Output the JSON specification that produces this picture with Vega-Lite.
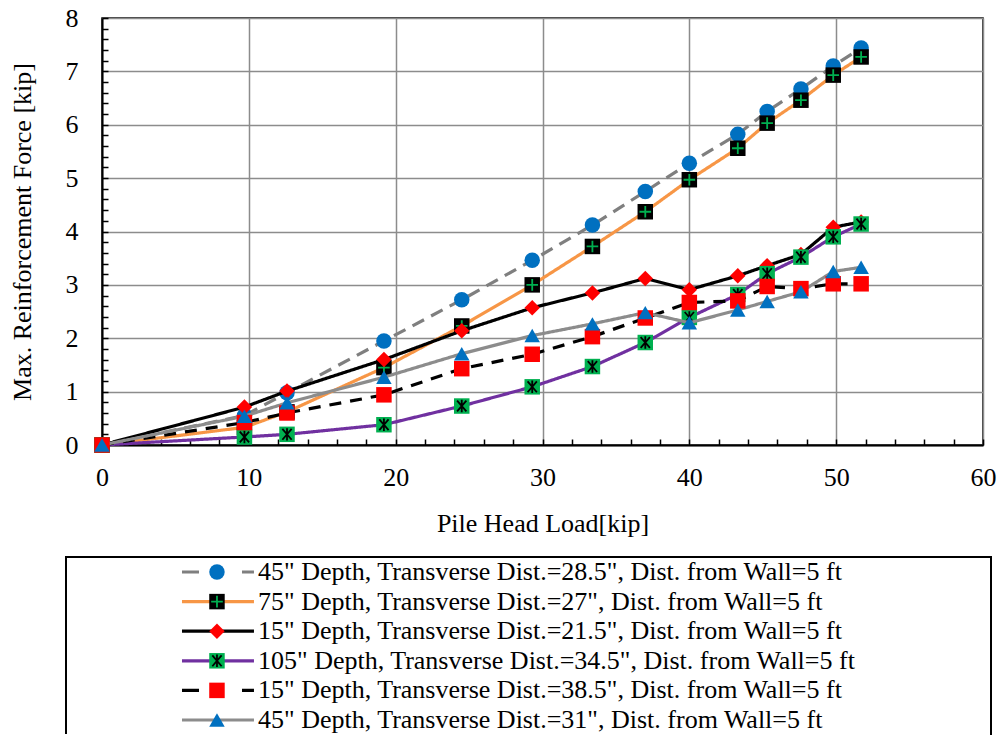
{
  "$schema": "https://vega.github.io/schema/vega-lite/v6.json",
  "padding": {"left": 8, "top": 4, "right": 0, "bottom": 0},
  "spacing": 19,
  "config": {"font": "Liberation Serif", "view": {"stroke": "black", "strokeWidth": 1.5}},
  "datasets": {
    "pts": [
      {"s": "A", "load": 0, "force": 0}, {"s": "A", "load": 9.7, "force": 0.55}, {"s": "A", "load": 12.6, "force": 0.98}, {"s": "A", "load": 19.2, "force": 1.95}, {"s": "A", "load": 24.5, "force": 2.72}, {"s": "A", "load": 29.3, "force": 3.46}, {"s": "A", "load": 33.4, "force": 4.12}, {"s": "A", "load": 37, "force": 4.75}, {"s": "A", "load": 40, "force": 5.28}, {"s": "A", "load": 43.3, "force": 5.82}, {"s": "A", "load": 45.3, "force": 6.25}, {"s": "A", "load": 47.6, "force": 6.67}, {"s": "A", "load": 49.8, "force": 7.1}, {"s": "A", "load": 51.7, "force": 7.44},
      {"s": "B", "load": 0, "force": 0}, {"s": "B", "load": 9.7, "force": 0.33}, {"s": "B", "load": 12.6, "force": 0.62}, {"s": "B", "load": 19.2, "force": 1.45}, {"s": "B", "load": 24.5, "force": 2.23}, {"s": "B", "load": 29.3, "force": 3.0}, {"s": "B", "load": 33.4, "force": 3.72}, {"s": "B", "load": 37, "force": 4.37}, {"s": "B", "load": 40, "force": 4.97}, {"s": "B", "load": 43.3, "force": 5.56}, {"s": "B", "load": 45.3, "force": 6.03}, {"s": "B", "load": 47.6, "force": 6.46}, {"s": "B", "load": 49.8, "force": 6.93}, {"s": "B", "load": 51.7, "force": 7.27},
      {"s": "C", "load": 0, "force": 0}, {"s": "C", "load": 9.7, "force": 0.71}, {"s": "C", "load": 12.6, "force": 1.01}, {"s": "C", "load": 19.2, "force": 1.6}, {"s": "C", "load": 24.5, "force": 2.14}, {"s": "C", "load": 29.3, "force": 2.57}, {"s": "C", "load": 33.4, "force": 2.85}, {"s": "C", "load": 37, "force": 3.12}, {"s": "C", "load": 40, "force": 2.91}, {"s": "C", "load": 43.3, "force": 3.17}, {"s": "C", "load": 45.3, "force": 3.36}, {"s": "C", "load": 47.6, "force": 3.57}, {"s": "C", "load": 49.8, "force": 4.08}, {"s": "C", "load": 51.7, "force": 4.18},
      {"s": "D", "load": 0, "force": 0}, {"s": "D", "load": 9.7, "force": 0.15}, {"s": "D", "load": 12.6, "force": 0.2}, {"s": "D", "load": 19.2, "force": 0.38}, {"s": "D", "load": 24.5, "force": 0.73}, {"s": "D", "load": 29.3, "force": 1.09}, {"s": "D", "load": 33.4, "force": 1.47}, {"s": "D", "load": 37, "force": 1.92}, {"s": "D", "load": 40, "force": 2.39}, {"s": "D", "load": 43.3, "force": 2.82}, {"s": "D", "load": 45.3, "force": 3.21}, {"s": "D", "load": 47.6, "force": 3.52}, {"s": "D", "load": 49.8, "force": 3.9}, {"s": "D", "load": 51.7, "force": 4.14},
      {"s": "E", "load": 0, "force": 0}, {"s": "E", "load": 9.7, "force": 0.42}, {"s": "E", "load": 12.6, "force": 0.6}, {"s": "E", "load": 19.2, "force": 0.94}, {"s": "E", "load": 24.5, "force": 1.43}, {"s": "E", "load": 29.3, "force": 1.7}, {"s": "E", "load": 33.4, "force": 2.03}, {"s": "E", "load": 37, "force": 2.38}, {"s": "E", "load": 40, "force": 2.67}, {"s": "E", "load": 43.3, "force": 2.7}, {"s": "E", "load": 45.3, "force": 2.97}, {"s": "E", "load": 47.6, "force": 2.93}, {"s": "E", "load": 49.8, "force": 3.02}, {"s": "E", "load": 51.7, "force": 3.02},
      {"s": "F", "load": 0, "force": 0}, {"s": "F", "load": 9.7, "force": 0.54}, {"s": "F", "load": 12.6, "force": 0.79}, {"s": "F", "load": 19.2, "force": 1.27}, {"s": "F", "load": 24.5, "force": 1.71}, {"s": "F", "load": 29.3, "force": 2.05}, {"s": "F", "load": 33.4, "force": 2.27}, {"s": "F", "load": 37, "force": 2.48}, {"s": "F", "load": 40, "force": 2.29}, {"s": "F", "load": 43.3, "force": 2.53}, {"s": "F", "load": 45.3, "force": 2.69}, {"s": "F", "load": 47.6, "force": 2.87}, {"s": "F", "load": 49.8, "force": 3.25}, {"s": "F", "load": 51.7, "force": 3.33}
    ],
    "leg": [
      {"s": "A", "label": "45\" Depth, Transverse Dist.=28.5\", Dist. from Wall=5 ft"},
      {"s": "B", "label": "75\" Depth, Transverse Dist.=27\", Dist. from Wall=5 ft"},
      {"s": "C", "label": "15\" Depth, Transverse Dist.=21.5\", Dist. from Wall=5 ft"},
      {"s": "D", "label": "105\" Depth, Transverse Dist.=34.5\", Dist. from Wall=5 ft"},
      {"s": "E", "label": "15\" Depth, Transverse Dist.=38.5\", Dist. from Wall=5 ft"},
      {"s": "F", "label": "45\" Depth, Transverse Dist.=31\", Dist. from Wall=5 ft"}
    ]
  },
  "vconcat": [
    {
      "width": 881,
      "height": 427,
      "data": {"name": "pts"},
      "encoding": {
        "x": {
          "field": "load", "type": "quantitative",
          "scale": {"domain": [0, 60], "nice": false, "zero": false},
          "axis": {
            "title": "Pile Head Load[kip]",
            "values": [0,2,4,6,8,10,12,14,16,18,20,22,24,26,28,30,32,34,36,38,40,42,44,46,48,50,52,54,56,58,60],
            "labelExpr": "datum.value % 10 === 0 ? datum.label : ''",
            "labelOverlap": false, "labelFlush": false,
            "grid": true, "gridColor": "#8C8C8C", "gridWidth": 1.5,
            "gridOpacity": {"condition": {"test": "datum.value % 10 === 0", "value": 1}, "value": 0},
            "tickSize": -6, "tickColor": "black", "tickWidth": 1.5,
            "domainColor": "black", "domainWidth": 2,
            "labelFontSize": 26, "labelColor": "black", "labelPadding": 25,
            "titleFontSize": 26, "titleFontWeight": "normal", "titleColor": "black", "titlePadding": 20
          }
        },
        "y": {
          "field": "force", "type": "quantitative",
          "scale": {"domain": [0, 8], "nice": false},
          "axis": {
            "title": "Max. Reinforcement Force [kip]",
            "values": [0,0.2,0.4,0.6,0.8,1,1.2,1.4,1.6,1.8,2,2.2,2.4,2.6,2.8,3,3.2,3.4,3.6,3.8,4,4.2,4.4,4.6,4.8,5,5.2,5.4,5.6,5.8,6,6.2,6.4,6.6,6.8,7,7.2,7.4,7.6,7.8,8],
            "labelExpr": "abs(datum.value - round(datum.value)) < 0.001 ? format(datum.value, 'd') : ''",
            "labelOverlap": false, "labelFlush": false,
            "grid": true, "gridColor": "#8C8C8C", "gridWidth": 1.5,
            "gridOpacity": {"condition": {"test": "abs(datum.value - round(datum.value)) < 0.001", "value": 1}, "value": 0},
            "tickSize": -6, "tickColor": "black", "tickWidth": 1.5,
            "domainColor": "black", "domainWidth": 2,
            "labelFontSize": 26, "labelColor": "black", "labelPadding": 30,
            "titleFontSize": 26, "titleFontWeight": "normal", "titleColor": "black", "titlePadding": 30
          }
        }
      },
      "layer": [
        {
          "transform": [{"filter": {"field": "s", "oneOf": ["A", "B"]}}],
          "mark": {"type": "line", "strokeWidth": 3.2},
          "encoding": {
            "stroke": {"field": "s", "type": "nominal", "legend": null, "scale": {"domain": ["A","B","C","D","E","F"], "range": ["#7F7F7F","#F79646","#000000","#7030A0","#000000","#8C8C8C"]}},
            "strokeDash": {"field": "s", "type": "nominal", "legend": null, "scale": {"domain": ["A","B","C","D","E","F"], "range": [[13,8],[1,0],[1,0],[1,0],[12,9],[1,0]]}}
          }
        },
        {
          "transform": [{"filter": {"field": "s", "oneOf": ["A", "B"]}}],
          "mark": {"type": "point", "filled": true, "opacity": 1, "strokeWidth": 0},
          "encoding": {
            "shape": {"field": "s", "type": "nominal", "legend": null, "scale": {"domain": ["A","B","C","D","E","F"], "range": ["circle","square","diamond","square","square","triangle-up"]}},
            "fill": {"field": "s", "type": "nominal", "legend": null, "scale": {"domain": ["A","B","C","D","E","F"], "range": ["#0070C0","#000000","#FF0000","#00B050","#FF0000","#0070C0"]}},
            "size": {"field": "s", "type": "nominal", "legend": null, "scale": {"domain": ["A","B","C","D","E","F"], "range": [240,240,250,240,240,290]}}
          }
        },
        {
          "transform": [{"filter": {"field": "s", "equal": "B"}}],
          "mark": {"type": "point", "filled": false, "opacity": 1, "shape": "M-0.75,0H0.75M0,-0.75V0.75", "stroke": "#00B050", "strokeWidth": 1.8, "size": 240}
        },
        {
          "transform": [{"filter": {"field": "s", "oneOf": ["C", "D"]}}],
          "mark": {"type": "line", "strokeWidth": 3.2},
          "encoding": {
            "stroke": {"field": "s", "type": "nominal", "legend": null},
            "strokeDash": {"field": "s", "type": "nominal", "legend": null}
          }
        },
        {
          "transform": [{"filter": {"field": "s", "oneOf": ["C", "D"]}}],
          "mark": {"type": "point", "filled": true, "opacity": 1, "strokeWidth": 0},
          "encoding": {
            "shape": {"field": "s", "type": "nominal", "legend": null},
            "fill": {"field": "s", "type": "nominal", "legend": null},
            "size": {"field": "s", "type": "nominal", "legend": null}
          }
        },
        {
          "transform": [{"filter": {"field": "s", "equal": "D"}}],
          "mark": {"type": "point", "filled": false, "opacity": 1, "shape": "M-0.6,-0.7L0.6,0.7M0.6,-0.7L-0.6,0.7M0,-0.8V0.8", "stroke": "#000000", "strokeWidth": 1.8, "size": 240}
        },
        {
          "transform": [{"filter": {"field": "s", "oneOf": ["E", "F"]}}],
          "mark": {"type": "line", "strokeWidth": 3.2},
          "encoding": {
            "stroke": {"field": "s", "type": "nominal", "legend": null},
            "strokeDash": {"field": "s", "type": "nominal", "legend": null}
          }
        },
        {
          "transform": [{"filter": {"field": "s", "oneOf": ["E", "F"]}}],
          "mark": {"type": "point", "filled": true, "opacity": 1, "strokeWidth": 0},
          "encoding": {
            "shape": {"field": "s", "type": "nominal", "legend": null},
            "fill": {"field": "s", "type": "nominal", "legend": null},
            "size": {"field": "s", "type": "nominal", "legend": null}
          }
        }
      ]
    },
    {
      "width": 881,
      "height": 178,
      "view": {"stroke": null},
      "data": {"name": "leg"},
      "encoding": {
        "y": {"field": "s", "type": "nominal", "axis": null, "scale": {"type": "point", "domain": ["A","B","C","D","E","F"], "padding": 0.507}}
      },
      "layer": [
        {
          "mark": {"type": "rect", "fill": null, "filled": false, "stroke": "black", "strokeWidth": 1.5, "strokeDash": [1103, 926, 177, 0]},
          "encoding": {
            "y": null,
            "x": {"datum": -0.0409, "type": "quantitative", "scale": {"domain": [0, 1], "nice": false, "zero": false}, "axis": null},
            "x2": {"datum": 1.0091}
          }
        },
        {
          "transform": [{"filter": {"field": "s", "oneOf": ["B", "C", "D", "F"]}}],
          "mark": {"type": "rule", "strokeWidth": 3.2},
          "encoding": {
            "x": {"datum": 0.0908, "type": "quantitative"},
            "x2": {"datum": 0.1725},
            "stroke": {"field": "s", "type": "nominal", "legend": null, "scale": {"domain": ["A","B","C","D","E","F"], "range": ["#7F7F7F","#F79646","#000000","#7030A0","#000000","#8C8C8C"]}}
          }
        },
        {
          "transform": [{"filter": {"field": "s", "oneOf": ["A", "E"]}}],
          "mark": {"type": "rule", "strokeWidth": 3.2, "strokeDash": [17, 43]},
          "encoding": {
            "x": {"datum": 0.0908, "type": "quantitative"},
            "x2": {"datum": 0.1725},
            "stroke": {"field": "s", "type": "nominal", "legend": null}
          }
        },
        {
          "mark": {"type": "point", "filled": true, "opacity": 1, "strokeWidth": 0},
          "encoding": {
            "x": {"datum": 0.1305, "type": "quantitative"},
            "shape": {"field": "s", "type": "nominal", "legend": null, "scale": {"domain": ["A","B","C","D","E","F"], "range": ["circle","square","diamond","square","square","triangle-up"]}},
            "fill": {"field": "s", "type": "nominal", "legend": null, "scale": {"domain": ["A","B","C","D","E","F"], "range": ["#0070C0","#000000","#FF0000","#00B050","#FF0000","#0070C0"]}},
            "size": {"field": "s", "type": "nominal", "legend": null, "scale": {"domain": ["A","B","C","D","E","F"], "range": [240,240,250,240,240,290]}}
          }
        },
        {
          "transform": [{"filter": {"field": "s", "equal": "B"}}],
          "mark": {"type": "point", "filled": false, "opacity": 1, "shape": "M-0.75,0H0.75M0,-0.75V0.75", "stroke": "#00B050", "strokeWidth": 1.8, "size": 240},
          "encoding": {"x": {"datum": 0.1305, "type": "quantitative"}}
        },
        {
          "transform": [{"filter": {"field": "s", "equal": "D"}}],
          "mark": {"type": "point", "filled": false, "opacity": 1, "shape": "M-0.6,-0.7L0.6,0.7M0.6,-0.7L-0.6,0.7M0,-0.8V0.8", "stroke": "#000000", "strokeWidth": 1.8, "size": 240},
          "encoding": {"x": {"datum": 0.1305, "type": "quantitative"}}
        },
        {
          "mark": {"type": "text", "align": "left", "baseline": "middle", "fontSize": 26, "font": "Liberation Serif", "color": "black"},
          "encoding": {
            "x": {"datum": 0.1771, "type": "quantitative"},
            "text": {"field": "label", "type": "nominal"}
          }
        }
      ]
    }
  ]
}
